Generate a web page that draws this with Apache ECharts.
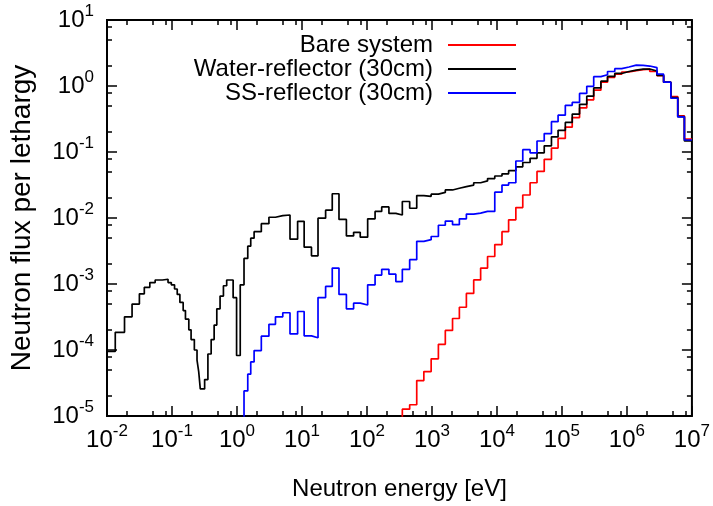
<!DOCTYPE html>
<html><head><meta charset="utf-8">
<script src="https://cdn.jsdelivr.net/npm/echarts@6/dist/echarts.min.js"></script>
<style>html,body{margin:0;padding:0;background:#fff}#c{width:713px;height:506px}</style>
</head><body><div id="c"></div>
<script>
// Bin lower edges (eV); the last entry is the upper edge of the last bin
const energy = [0.01,0.0134,0.0186,0.0243,0.0315,0.0375,0.0456,0.0551,0.0712,0.0869,
  0.0976,0.1095,0.1204,0.1323,0.1486,0.1611,0.1815,0.1967,0.2208,0.2427,
  0.2576,0.2724,0.3179,0.3569,0.4006,0.445,0.4892,0.5492,0.6186,0.6944,
  0.8721,0.986,1.122,1.283,1.465,1.628,1.834,2.368,3.101,3.909,
  5.067,6.544,8.57,10.8,14.0,17.65,23.11,29.23,37.1,48.25,
  62.3,78.78,102.5,133.3,168.6,217.7,278.2,350,454,583,
  750,972,1256,1605,2073,2641,3386,4389,5610,7170,
  9258,11955,15118,19530,24960,32360,41340,53400,68970,87220,
  112700,144000,186600,241000,308100,397800,503000,649900,830500,1.076e6,
  1.39e6,1.777e6,2.246e6,2.901e6,3.67e6,4.741e6,6.057e6,7.662e6,1e7];

// Water-reflector (30cm): one value per entry of energy
const water = [9.5e-5,1.85e-4,3.18e-4,4.97e-4,7.1e-4,8.9e-4,1.05e-3,1.15e-3,1.18e-3,1.05e-3,
  9.7e-4,8.4e-4,6.95e-4,5.26e-4,3.96e-4,2.93e-4,2.02e-4,1.44e-4,1.0e-4,7.0e-5,
  4.7e-5,2.57e-5,3.56e-5,8.7e-5,1.44e-4,2.39e-4,4.2e-4,6.57e-4,9.4e-4,1.15e-3,
  6.2e-4,8.25e-5,9.7e-4,2.44e-3,3.74e-3,4.95e-3,6.2e-3,8.2e-3,1.027e-2,1.088e-2,
  1.11e-2,4.78e-3,8.89e-3,3.62e-3,2.67e-3,9.93e-3,1.313e-2,2.33e-2,9.51e-3,5.36e-3,
  6.06e-3,5.12e-3,9.7e-3,1.258e-2,1.473e-2,1.175e-2,1.11e-2,1.778e-2,1.405e-2,2.19e-2,
  2.13e-2,2.3e-2,2.44e-2,2.66e-2,2.82e-2,2.99e-2,3.15e-2,3.42e-2,3.65e-2,3.95e-2,
  4.33e-2,4.67e-2,5.22e-2,5.97e-2,6.93e-2,8.01e-2,9.7e-2,0.124,0.17,0.213,
  0.281,0.375,0.527,0.702,0.935,1.183,1.40,1.549,1.657,1.743,
  1.803,1.803,1.685,1.448,1.144,0.668,0.344,0.147,0.147];

// SS-reflector (30cm): aligned with the last ss.length entries of energy
const ss = [1e-7,2.4e-5,4.3e-5,6.6e-5,9.8e-5,1.62e-4,2.45e-4,3.18e-4,3.67e-4,1.75e-4,
  3.83e-4,1.64e-4,1.53e-4,6.22e-4,9.19e-4,1.742e-3,6.95e-4,4.2e-4,5.13e-4,4.8e-4,
  9.73e-4,1.363e-3,1.668e-3,1.409e-3,1.088e-3,1.668e-3,2.34e-3,4.43e-3,4.69e-3,5.24e-3,
  7.77e-3,8.98e-3,7.93e-3,9.7e-3,1.148e-2,1.187e-2,1.258e-2,1.258e-2,2.46e-2,3.15e-2,
  3.42e-2,7.31e-2,0.1084,9.7e-2,0.1468,0.19,0.288,0.361,0.51,0.564,
  0.772,0.99,1.386,1.483,1.657,1.833,1.941,2.076,2.048,2.007,
  1.896,1.513,1.144,0.652,0.34,0.152,0.152];

// Bare system: aligned with the last bare.length entries of energy
const bare = [1e-7,1.27e-5,1.48e-5,3.44e-5,4.71e-5,7.36e-5,1.22e-4,1.98e-4,3.0e-4,4.44e-4,
  7.19e-4,1.152e-3,1.742e-3,2.61e-3,3.96e-3,6.2e-3,9.38e-3,1.438e-2,2.23e-2,3.42e-2,
  5.08e-2,7.74e-2,0.1148,0.1608,0.2375,0.3325,0.4657,0.618,0.865,1.144,
  1.354,1.513,1.629,1.714,1.772,1.803,1.657,1.433,1.144,0.691,
  0.352,0.157,0.157];

const seriesNames = ['Bare system','Water-reflector (30cm)','SS-reflector (30cm)'];
const xDecades = [-2,7];   // 10^-2 .. 10^7
const yDecades = [-5,1];   // 10^-5 .. 10^1
const minorMantissas = [2,5,8];

function pairs(vals){
  const e = energy.slice(energy.length - vals.length);
  return vals.map((v,i)=>[e[i], v]);
}
function minorTicks(lo, hi){
  const out=[];
  for(let d=lo; d<hi; d++) minorMantissas.forEach(m=>out.push(d+Math.log10(m)));
  return out;
}

const FONT = "'Liberation Sans',Arial,sans-serif";
const FS = 24;
const rich = {
  b:{fontSize:FS, fontFamily:FONT, color:'#000'},
  s:{fontSize:17, fontFamily:FONT, color:'#000', padding:[0,0,18,0]}
};
const fmt = v => '{b|10}{s|' + Math.round(v) + '}';

function tickAxes(dim, ext, sideMain, sideOther){
  const base = {type:'value', min:ext[0], max:ext[1], splitLine:{show:false}, axisLine:{show:false,onZero:false}};
  const major = {show:true, length:10, inside:true, lineStyle:{color:'#000', width:1.5}};
  const minor = {show:true, length:5, inside:true, lineStyle:{color:'#000', width:1.5}, customValues:minorTicks(ext[0],ext[1])};
  return [
    Object.assign({}, base, {position:sideMain, interval:1, axisTick:major,
      axisLabel:{show:true, formatter:fmt, rich:rich, margin: dim==='x'?7:13}}),
    Object.assign({}, base, {position:sideMain, axisTick:minor, axisLabel:{show:false}}),
    Object.assign({}, base, {position:sideOther, interval:1, axisTick:major, axisLabel:{show:false}}),
    Object.assign({}, base, {position:sideOther, axisTick:minor, axisLabel:{show:false}})
  ];
}

const chart = echarts.init(document.getElementById('c'), null, {renderer:'canvas'});
chart.setOption({
  animation:false,
  backgroundColor:'#fff',
  grid:{left:104, right:18, top:20, bottom:75, show:true, borderColor:'#000', borderWidth:2, backgroundColor:'transparent'},
  legend:{
    orient:'vertical', right:197, top:33, align:'right', padding:0,
    itemWidth:68, itemHeight:2, itemGap:0, icon:'rect',
    textStyle:{fontSize:FS, fontFamily:FONT, color:'#000', lineHeight:24, padding:[0,10,0,0]},
    data:seriesNames
  },
  xAxis:[
    {type:'log', min:Math.pow(10,xDecades[0]), max:Math.pow(10,xDecades[1]), position:'bottom',
     axisLine:{show:false,onZero:false}, axisTick:{show:false}, axisLabel:{show:false}, splitLine:{show:false},
     name:'Neutron energy [eV]', nameLocation:'middle', nameGap:61,
     nameTextStyle:{fontSize:FS, fontFamily:FONT, color:'#000'}}
  ].concat(tickAxes('x', xDecades, 'bottom', 'top')),
  yAxis:[
    {type:'log', min:Math.pow(10,yDecades[0]), max:Math.pow(10,yDecades[1]), position:'left',
     axisLine:{show:false,onZero:false}, axisTick:{show:false}, axisLabel:{show:false}, splitLine:{show:false},
     name:'Neutron flux per lethargy', nameLocation:'middle', nameGap:71,
     nameTextStyle:{fontSize:28, fontFamily:FONT, color:'#000'}}
  ].concat(tickAxes('y', yDecades, 'left', 'right')),
  series:[
    {name:seriesNames[0], type:'line', step:'end', data:pairs(bare), symbol:'none', xAxisIndex:0, yAxisIndex:0,
     lineStyle:{color:'#ff0000', width:1.7}, itemStyle:{color:'#ff0000'}},
    {name:seriesNames[1], type:'line', step:'end', data:pairs(water), symbol:'none', xAxisIndex:0, yAxisIndex:0,
     lineStyle:{color:'#000000', width:1.7}, itemStyle:{color:'#000000'}},
    {name:seriesNames[2], type:'line', step:'end', data:pairs(ss), symbol:'none', xAxisIndex:0, yAxisIndex:0,
     lineStyle:{color:'#0000ff', width:1.7}, itemStyle:{color:'#0000ff'}}
  ]
});
</script></body></html>
